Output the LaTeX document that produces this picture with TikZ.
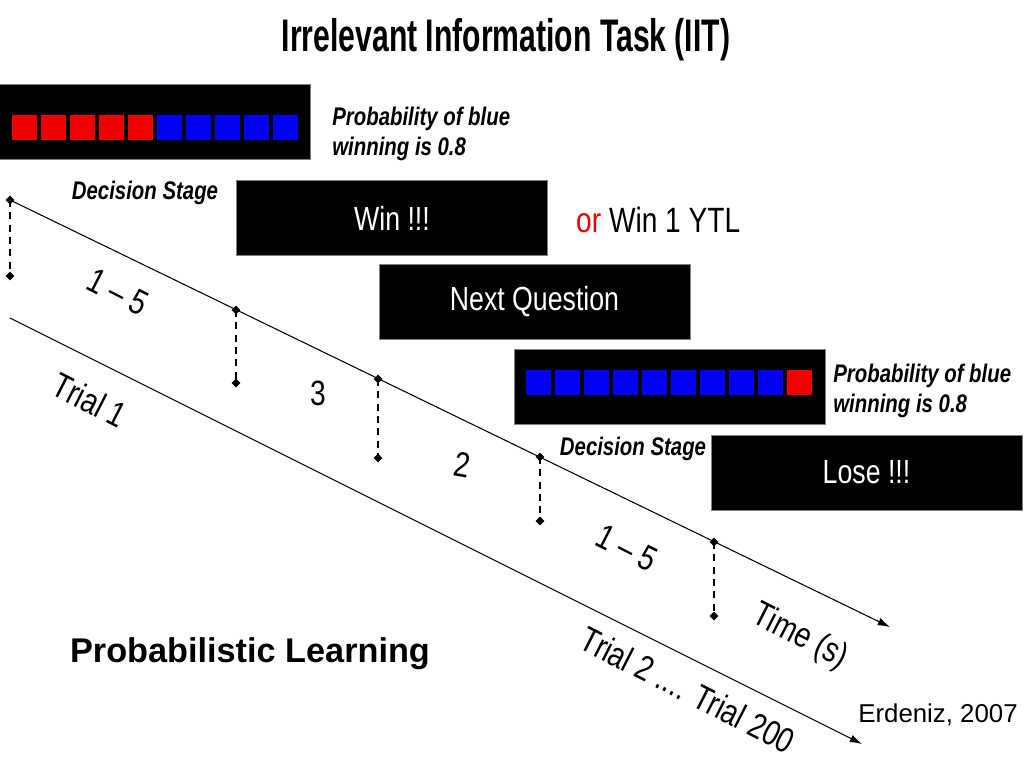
\documentclass[tikz,border=0pt]{standalone}
\usepackage{fontspec}
\setmainfont{Liberation Sans}
\newfontfamily\condfont[FakeStretch=0.8]{Liberation Sans}
\newfontfamily\titlefont[FakeStretch=0.66]{Liberation Sans}
\usepackage{xcolor}
\usetikzlibrary{shapes.geometric, arrows.meta, positioning, calc}
\definecolor{sqred}{RGB}{240,0,0}
\definecolor{sqblue}{RGB}{0,0,245}

\begin{document}
\begin{tikzpicture}[x=0.02cm, y=-0.02cm, >={Latex[length=7pt,width=4.5pt]},
    box/.style={draw=gray, fill=black, minimum width=6.22cm, minimum height=1.5cm, text=white, font=\condfont\fontsize{19}{22}\selectfont},
    sq/.style={minimum size=0.5cm, inner sep=0pt},
    tick/.style={diamond, fill=black, inner sep=1.3pt},
    cue/.style={font=\condfont\bfseries\itshape\fontsize{14.5}{17}\selectfont, align=left, inner sep=0pt},
    lbl/.style={font=\condfont\fontsize{20}{23}\selectfont},
    axis/.style={line width=0.6pt},
    guide/.style={line width=0.8pt, dash pattern=on 4pt off 3pt}]
    \useasboundingbox (0,0) rectangle (1024,768);

    \node[font=\titlefont\bfseries\fontsize{26}{30}\selectfont] (title) at (506,40) {Irrelevant Information Task (IIT)};

    % stimuli
    \node[box] (bar1) at (155,122) {};
    \foreach \i in {0,...,9} {
        \ifnum\i<5 \def\c{sqred}\else \def\c{sqblue}\fi
        \node[sq, fill=\c] (sq1-\i) at (24.5+29*\i,127.5) {};
    }
    \node[cue, anchor=west] (prob1) at (332,134) {Probability of blue\\winning is 0.8};
    \node[cue] (dec1) at (145,193) {Decision Stage};
    \node[box] (win) at (392,218) {Win !!!};
    \node[anchor=west, font=\condfont\fontsize{20}{23}\selectfont] (ytl) at (570,220) {\textcolor{sqred}{or} Win 1 YTL};
    \node[box] (next) at (534.5,302) {Next Question};

    \node[box] (bar2) at (669.5,387) {};
    \foreach \i in {0,...,9} {
        \ifnum\i<9 \def\c{sqblue}\else \def\c{sqred}\fi
        \node[sq, fill=\c] (sq2-\i) at (538.5+29*\i,382.5) {};
    }
    \node[cue, anchor=west] (prob2) at (833,391) {Probability of blue\\winning is 0.8};
    \node[cue] (dec2) at (633,449) {Decision Stage};
    \node[box] (lose) at (866.5,472.5) {Lose !!!};

    % time axis
    \node[tick] (m0) at (10,200) {};
    \node[tick] (m1) at (236,310) {};
    \node[tick] (m2) at (378,379) {};
    \node[tick] (m3) at (540,457) {};
    \node[tick] (m4) at (714,542) {};
    \node[tick] (n0) at (10,276) {};
    \node[tick] (n1) at (236,383) {};
    \node[tick] (n2) at (378,458) {};
    \node[tick] (n3) at (540,521) {};
    \node[tick] (n4) at (714,616) {};
    \coordinate (tend) at (890,627);
    \coordinate (lstart) at (10,318);
    \coordinate (lend) at (862,744);

    \draw[axis, ->] (m0.center) -- (tend);
    \draw[axis, ->] (lstart) -- (lend);
    \foreach \k in {0,...,4}
        \draw[guide] (m\k.center) -- (n\k.center);

    \node[lbl, rotate=-27] (d1) at (118,292) {1 – 5};
    \node[lbl] (d2) at (318,393) {3};
    \node[lbl, rotate=-10] (d3) at (462,465) {2};
    \node[lbl, rotate=-27] (d4) at (627,548) {1 – 5};
    \node[lbl, rotate=-27] (time) at (800,637) {Time (s)};
    \node[lbl, rotate=-27] (trial1) at (90,400) {Trial 1};
    \node[lbl, rotate=-27] (trialn) at (688,690) {Trial 2 .... Trial 200};

    \node[font=\bfseries\fontsize{19.5}{23}\selectfont] (learn) at (250,654) {Probabilistic Learning};
    \node[font=\fontsize{14.7}{17}\selectfont] (cite) at (938,715) {Erdeniz, 2007};
\end{tikzpicture}
\end{document}
